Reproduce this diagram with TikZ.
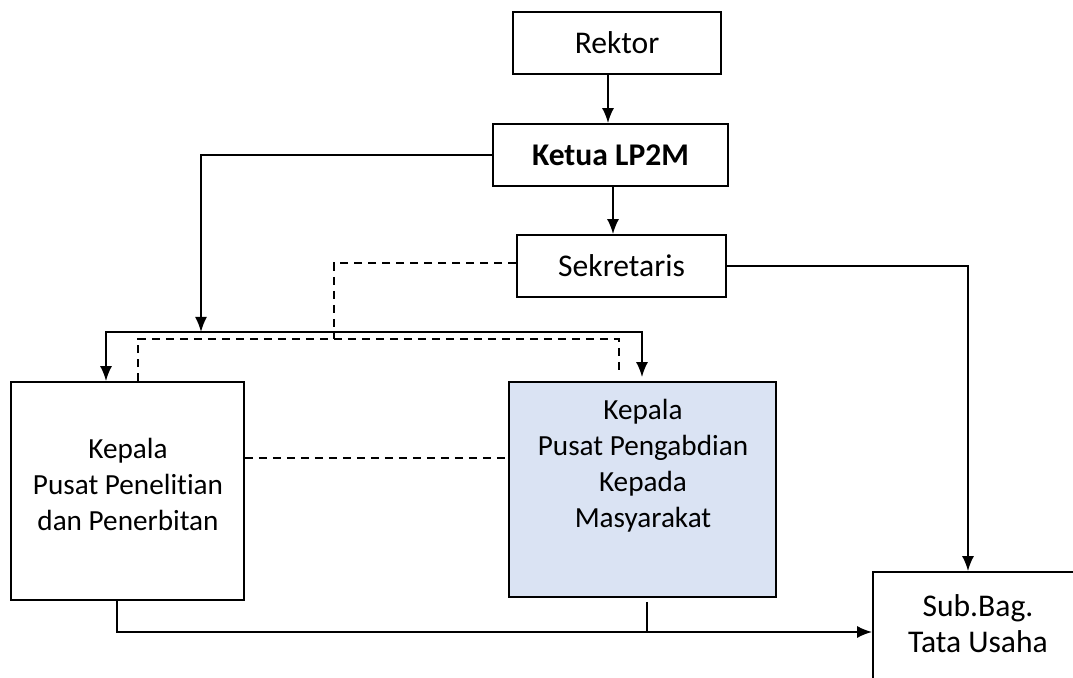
\documentclass[tikz,border=0pt]{standalone}
\usepackage{fontspec}
\setmainfont{Carlito}[Ligatures = NoCommon]
\usetikzlibrary{arrows.meta}
\definecolor{pusatblue}{HTML}{DAE3F3}
\begin{document}
\begin{tikzpicture}[x = .5pt, y = -.5pt,
    font = \fontsize{15.8}{18}\selectfont,
    unit/.style = {draw, line width = .9pt, inner sep = 0pt},
    txt/.style = {align = center, inner sep = 0pt},
    smalltxt/.style = {txt, font = \fontsize{14.6}{18}\selectfont},
    arr/.style = {line width = .9pt, -{Latex[length = 7.5pt, width = 6pt]}},
    dashline/.style = {line width = .9pt, dash pattern = on 4pt off 3pt}]
  \useasboundingbox (0, 0) rectangle (1073, 678);
  \clip (0, 0) rectangle (1073, 678);
  % boxes
  \node[unit, minimum width = 104pt, minimum height = 31pt] (rektor) at (617, 43) {Rektor};
  \node[unit, minimum width = 117.5pt, minimum height = 31pt] (ketua) at (610.5, 155) {\bfseries Ketua LP2M};
  \node[unit, minimum width = 104.5pt, minimum height = 31pt] (sekretaris) at (621.5, 266) {Sekretaris};
  \node[unit, minimum width = 116.5pt, minimum height = 109pt] (penelitian) at (127.5, 491) {};
  \node[unit, fill = pusatblue, minimum width = 133.5pt, minimum height = 107.5pt] (pengabdian) at (642.5, 489.5) {};
  \node[unit, minimum width = 104pt, minimum height = 80pt] (subbag) at (977, 652) {};
  \node[smalltxt] (penelitiantxt) at (128, 484) {Kepala\\Pusat Penelitian\\dan Penerbitan};
  \node[smalltxt] (pengabdiantxt) at (643, 466) {Kepala\\Pusat Pengabdian\\Kepada\\Masyarakat};
  \node[txt] (subbagtxt) at (978, 624) {Sub.Bag.\\Tata Usaha};
  % bus lines
  \coordinate (busdrop) at (201, 332);
  \coordinate (busL) at (106, 332);
  \coordinate (busR) at (642, 332);
  \coordinate (dashmid) at (334, 339);
  \coordinate (dashL) at (138, 339);
  \coordinate (dashR) at (619, 339);
  \coordinate (dashend) at (619, 374);
  \coordinate (botL) at (117, 632);
  % solid connectors
  \draw[arr] ([xshift = -4.5pt]rektor.south) -- ([xshift = -4.5pt]rektor.south |- ketua.north);
  \draw[arr] ([xshift = 1.25pt]ketua.south) -- ([xshift = 1.25pt]ketua.south |- sekretaris.north);
  \draw[arr] (ketua.west) -| (busdrop);
  \draw[arr, {Latex[length = 7.5pt, width = 6pt]}-{Latex[length = 7.5pt, width = 6pt]}] (busL |- penelitian.north) -- (busL) -- (busR) -- ([yshift = 2pt]busR |- pengabdian.north);
  \draw[arr] (sekretaris.east) -| ([xshift = -4.5pt]subbag.north);
  \draw[arr] ([xshift = -5.25pt]penelitian.south) |- (subbag.west |- botL);
  \draw[line width = .9pt, shorten <= 2pt] ([xshift = 2.25pt]pengabdian.south) -- ([xshift = 2.25pt]pengabdian.south |- botL);
  % dashed connectors
  \draw[dashline] (sekretaris.west |- 0, 263) -| (dashmid);
  \draw[dashline] (dashL |- penelitian.north) -- (dashL) -- (dashR) -- (dashend);
  \draw[dashline] ([yshift = 16.5pt]penelitian.east) -- ([yshift = 16.5pt]penelitian.east -| pengabdian.west);
\end{tikzpicture}
\end{document}
